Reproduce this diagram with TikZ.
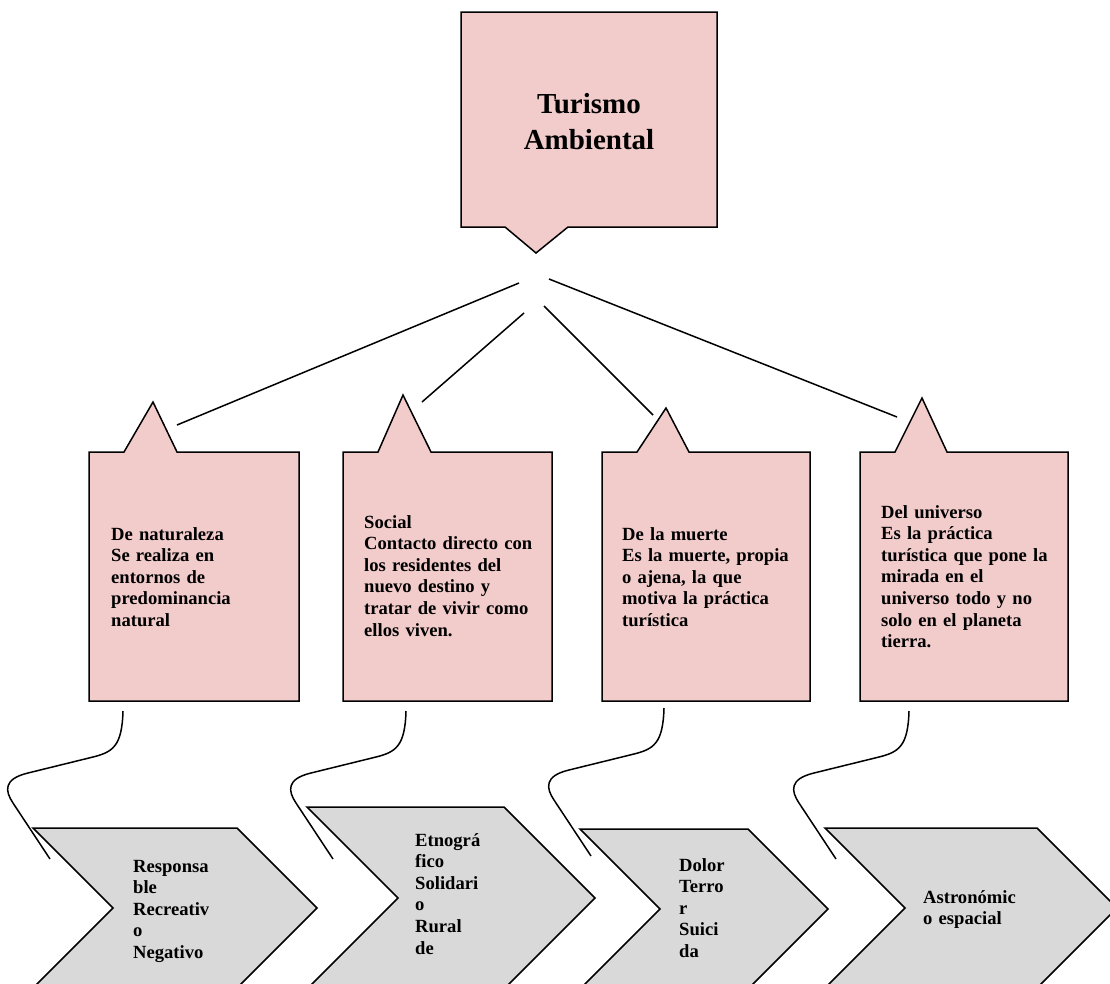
\documentclass[tikz,border=0pt]{standalone}
\usepackage{fontspec}
\setmainfont{Liberation Serif}
\usetikzlibrary{positioning}
\definecolor{rosa}{RGB}{242,203,203}
\definecolor{gris}{RGB}{217,217,217}
\tikzset{
  bubble/.style={draw,fill=rosa,line width=1.5pt},
  chevron/.style={draw,fill=gris,line width=1.5pt},
  branch/.style={line width=1.5pt},
  wave/.style={line width=1.5pt},
  body/.style={anchor=base west,inner sep=0pt,text width=210pt,align=left,font=\bfseries\fontsize{18.6}{21.6}\selectfont},
  rootlabel/.style={anchor=base,inner sep=0pt,text width=240pt,align=center,font=\bfseries\fontsize{29}{36}\selectfont}
}
\def\ytop{452}
\def\ybot{701}

\begin{document}
\begin{tikzpicture}[x=1pt,y=-1pt]
  \useasboundingbox (0,0) rectangle (1110,983);

  % Root
  \draw[bubble] (461,12) -- (717,12) -- (717,227) -- (568,227) -- (536,253) -- (505,227) -- (461,227) -- cycle;
  \node[rootlabel] (raiz) at (589,113) {Turismo\\Ambiental};

  % Links
  \foreach \a/\b/\c/\d [count=\i] in {519/283/177/425,524/313/422/402,544/306/653/415,549/279/897/417} {
    \coordinate (hub\i) at (\a,\b);
    \coordinate (tip\i) at (\c,\d);
    \draw[branch] (hub\i) -- (tip\i);
  }

  % Types
  \foreach \l/\r/\pa/\pb/\tx/\ty in {89/299/124/177/153/402,343/552/378/431/403/395,602/810/637/689/666/408,860/1068/895/947/922/398}
    \draw[bubble] (\l,\ytop) -- (\pa,\ytop) -- (\tx,\ty) -- (\pb,\ytop) -- (\r,\ytop) -- (\r,\ybot) -- (\l,\ybot) -- cycle;
  \node[body] (naturaleza) at (111,540) {De naturaleza\\Se realiza en\\entornos de\\predominancia\\natural};
  \node[body] (social) at (364,528) {Social\\Contacto directo con\\los residentes del\\nuevo destino y\\tratar de vivir como\\ellos viven.};
  \node[body] (muerte) at (622,540) {De la muerte\\Es la muerte, propia\\o ajena, la que\\motiva la práctica\\turística};
  \node[body] (universo) at (881,518) {Del universo\\Es la práctica\\turística que pone la\\mirada en el\\universo todo y no\\solo en el planeta\\tierra.};

  % Subtypes
  \foreach \x/\y/\w/\d in {33/828/204/80,307/807/197/91,580/829/168/80,825/828/212/80}
    \draw[chevron] (\x,\y) -- ++(\w,0) -- ++(\d,\d) -- ++(-\d,\d) -- ++(-\w,0) -- ++(\d,-\d) -- cycle;
  \node[body] (responsable) at (133,872) {Responsa\\ble\\Recreativ\\o\\Negativo};
  \node[body] (etnografico) at (415,846) {Etnográ\\fico\\Solidari\\o\\Rural\\de};
  \node[body] (dolor) at (679,871) {Dolor\\Terro\\r\\Suici\\da};
  \node[body] (astronomico) at (923,903) {Astronómic\\o espacial};

  % Curved connectors
  \foreach \x/\y [count=\i] in {123/711,406/711,664/708,909/711} {
    \coordinate (top\i) at (\x,\y);
    \coordinate (end\i) at (\x-73,\y+148);
    \draw[wave] (top\i) .. controls +(-1,35) and +(20,-5) .. ++(-30,46) -- ++(-65,16) .. controls +(-25,6) and +(-8,-12) .. ++(-15,30) -- (end\i);
  }
\end{tikzpicture}
\end{document}
